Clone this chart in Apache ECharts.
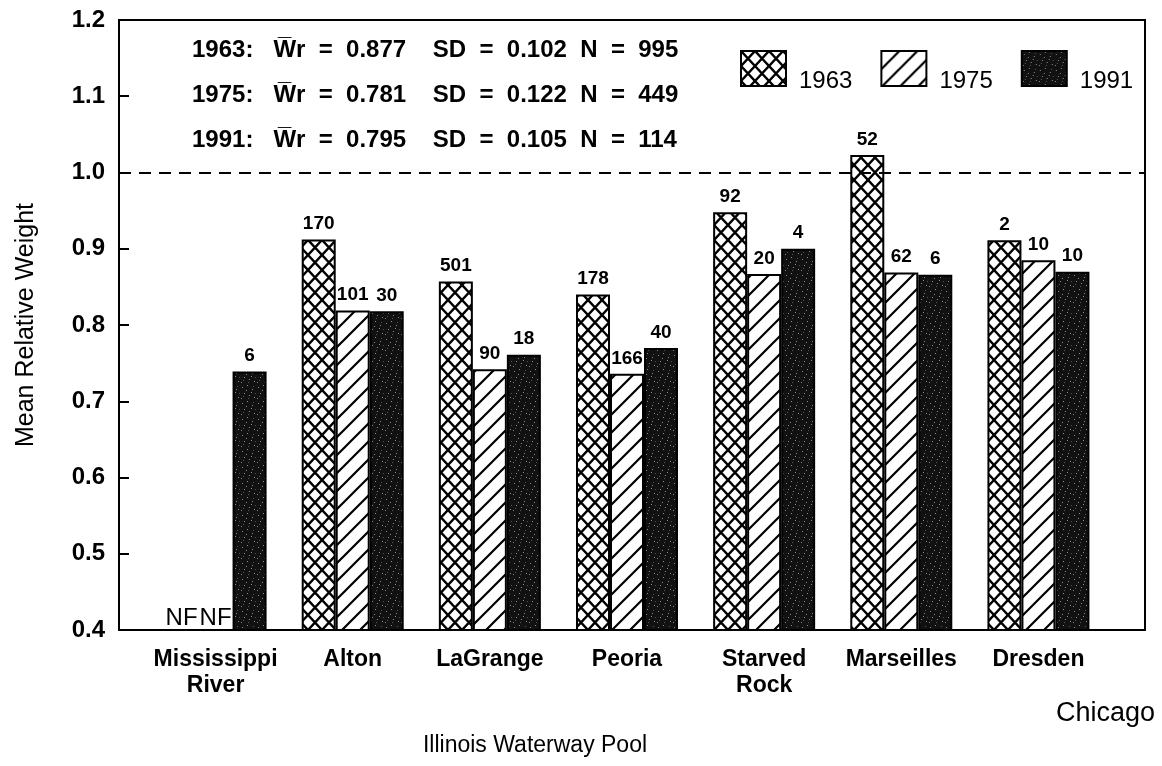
<!DOCTYPE html>
<html>
<head>
<meta charset="utf-8">
<script src="https://cdn.jsdelivr.net/npm/echarts@6/dist/echarts.min.js"></script>
<style>
html,body{margin:0;padding:0;background:#fff;}
#chart{width:1162px;height:766px;}
</style>
</head>
<body>
<div id="chart"></div>
<script>
// ---- data ----
const categories = ['Mississippi\nRiver', 'Alton', 'LaGrange', 'Peoria', 'Starved\nRock', 'Marseilles', 'Dresden'];
const years = ['1963', '1975', '1991'];
const wr1963 = [null, 0.912, 0.857, 0.840, 0.948, 1.023, 0.911];
const wr1975 = [null, 0.819, 0.742, 0.736, 0.867, 0.869, 0.885];
const wr1991 = [0.739, 0.818, 0.761, 0.770, 0.900, 0.866, 0.870];
const n1963 = ['NF', '170', '501', '178', '92', '52', '2'];
const n1975 = ['NF', '101', '90', '166', '20', '62', '10'];
const n1991 = ['6', '30', '18', '40', '4', '6', '10'];
const yTicks = [0.4, 0.5, 0.6, 0.7, 0.8, 0.9, 1.0, 1.1, 1.2];
const YMIN = 0.4, YMAX = 1.2, YSTEP = 0.1;
const referenceLine = 1.0;
const statsLines = [
  '1963:   W\u0305r  =  0.877    SD  =  0.102  N  =  995',
  '1975:   W\u0305r  =  0.781    SD  =  0.122  N  =  449',
  '1991:   W\u0305r  =  0.795    SD  =  0.105  N  =  114'
];

// ---- patterns ----
function crossHatch() {
  const w = 14, h = 15;
  const c = document.createElement('canvas'); c.width = w; c.height = h;
  const g = c.getContext('2d');
  g.fillStyle = '#fff'; g.fillRect(0, 0, w, h);
  g.strokeStyle = '#000'; g.lineWidth = 2.4;
  g.beginPath(); g.moveTo(0, 0); g.lineTo(w, h); g.moveTo(w, 0); g.lineTo(0, h); g.stroke();
  return c;
}
function diagHatch() {
  const s = 18;
  const c = document.createElement('canvas'); c.width = s; c.height = s;
  const g = c.getContext('2d');
  g.fillStyle = '#fff'; g.fillRect(0, 0, s, s);
  g.strokeStyle = '#000'; g.lineWidth = 2.2;
  g.beginPath();
  g.moveTo(-2, s + 2); g.lineTo(s + 2, -2);
  g.moveTo(-2, 2); g.lineTo(2, -2);
  g.moveTo(s - 2, s + 2); g.lineTo(s + 2, s - 2);
  g.stroke();
  return c;
}
function speckle() {
  const c = document.createElement('canvas'); c.width = 16; c.height = 16;
  const g = c.getContext('2d');
  g.fillStyle = '#111'; g.fillRect(0, 0, 16, 16);
  g.fillStyle = '#8a8a8a';
  const dots = [[2,3],[7,1],[12,5],[4,9],[9,11],[14,13],[1,14],[11,8],[6,6]];
  dots.forEach(d => g.fillRect(d[0], d[1], 1, 1));
  g.fillStyle = '#555';
  [[3,12],[13,2],[8,14],[15,9]].forEach(d => g.fillRect(d[0], d[1], 1, 1));
  return c;
}
const fills = [
  { image: crossHatch(), repeat: 'repeat' },
  { image: diagHatch(), repeat: 'repeat' },
  { image: speckle(), repeat: 'repeat' }
];

const FONT = '"Liberation Sans", Arial, sans-serif';

function makeSeries(idx, values, labels) {
  return {
    name: years[idx],
    type: 'bar',
    xAxisIndex: 1, yAxisIndex: 1,
    barWidth: 34,
    barGap: '0%',
    itemStyle: { color: fills[idx], borderColor: '#000', borderWidth: 2 },
    label: {
      show: true, position: 'top', distance: 6,
      fontFamily: FONT, fontSize: 19, fontWeight: 'bold', color: '#000',
      formatter: p => labels[p.dataIndex]
    },
    data: values.map((v, i) => v == null
      ? { value: YMIN, itemStyle: { color: 'transparent', borderWidth: 0 },
          label: { distance: 0, fontWeight: 'normal', fontSize: 24, formatter: labels[i] } }
      : v),
    z: 3
  };
}

const chart = echarts.init(document.getElementById('chart'));
chart.setOption({
  animation: false,
  backgroundColor: '#fff',
  title: {
    text: statsLines.join('\n'),
    left: 187, top: 23,
    textStyle: { fontFamily: FONT, fontSize: 24, fontWeight: 'bold', color: '#000', lineHeight: 45 }
  },
  legend: {
    data: years,
    left: 735, top: 45,
    icon: 'rect',
    itemWidth: 45, itemHeight: 35, itemGap: 28,
    formatter: '{t|{name}}',
    textStyle: { fontFamily: FONT, fontSize: 24, color: '#000',
      rich: { t: { fontFamily: FONT, fontSize: 24, color: '#000', padding: [26, 0, 0, 8] } } }
  },
  grid: [
    { left: 119, right: 17, top: 20, bottom: 136, show: true, borderColor: '#000', borderWidth: 2, backgroundColor: 'transparent' },
    { left: 147, right: 55, top: 20, bottom: 136 }
  ],
  xAxis: [
    { type: 'value', gridIndex: 0, min: 0, max: 1,
      axisLine: { show: false }, axisTick: { show: false }, axisLabel: { show: false }, splitLine: { show: false } },
    { type: 'category', gridIndex: 1, data: categories,
      axisLine: { show: false }, axisTick: { show: false },
      axisLabel: { interval: 0, margin: 17, fontFamily: FONT, fontSize: 23, fontWeight: 'bold', color: '#000', lineHeight: 26 } }
  ],
  yAxis: [
    { type: 'value', gridIndex: 0, min: YMIN, max: YMAX, interval: YSTEP,
      axisLine: { show: true, lineStyle: { color: '#000', width: 2 } },
      axisTick: { show: true, inside: true, length: 10, lineStyle: { color: '#000', width: 2 } },
      axisLabel: { margin: 14, fontFamily: FONT, fontSize: 24, fontWeight: 'bold', color: '#000',
        formatter: v => { const t = yTicks.find(x => Math.abs(x - v) < 1e-6); return t != null ? t.toFixed(1) : ''; } },
      splitLine: { show: false },
      name: 'Mean Relative Weight', nameLocation: 'middle', nameGap: 80, nameRotate: 90,
      nameTextStyle: { fontFamily: FONT, fontSize: 25, color: '#000' } },
    { type: 'value', gridIndex: 1, min: YMIN, max: YMAX, interval: YSTEP, show: false }
  ],
  graphic: [
    { type: 'text', left: 1056, top: 700, style: { text: 'Chicago', font: '27px ' + FONT, fill: '#000' } },
    { type: 'text', x: 535, y: 746, style: { text: 'Illinois Waterway Pool', font: '23px ' + FONT, fill: '#000', textAlign: 'center', textVerticalAlign: 'middle' } }
  ],
  series: [
    { type: 'line', xAxisIndex: 0, yAxisIndex: 0, data: [], silent: true,
      markLine: { symbol: 'none', silent: true, label: { show: false },
        lineStyle: { color: '#000', width: 2, type: [12, 8] },
        data: [{ yAxis: referenceLine }] } },
    makeSeries(0, wr1963, n1963),
    makeSeries(1, wr1975, n1975),
    makeSeries(2, wr1991, n1991)
  ]
});
</script>
</body>
</html>
